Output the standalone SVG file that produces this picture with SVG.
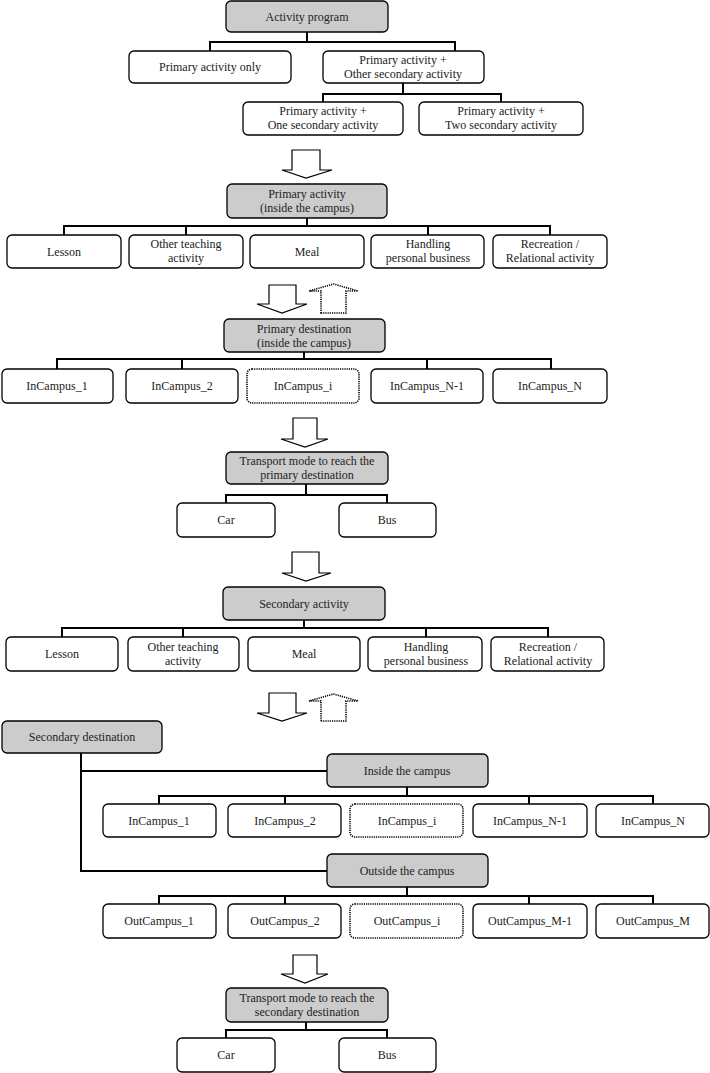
<svg xmlns="http://www.w3.org/2000/svg" width="710" height="1073" viewBox="0 0 710 1073">
<style>
.b{fill:#fff;stroke:#000;stroke-width:1.3}
.g{fill:#cccccc;stroke:#000;stroke-width:1.3}
.d{fill:#fff;stroke:#000;stroke-width:1.6;stroke-dasharray:1.2 1}
.t{font-family:"Liberation Serif","Times New Roman",serif;font-size:12px;fill:#222;text-anchor:middle}
.c{fill:none;stroke:#000;stroke-width:2}
.a{fill:#fff;stroke:#000;stroke-width:1.2}
.ad{fill:#fff;stroke:#000;stroke-width:1.6;stroke-dasharray:1.2 1}
</style>
<rect width="710" height="1073" fill="#fff"/>
<g id="connectors">
<path class="c" d="M307 32V42M210 51V42H455V51M403 83V94M323 102V94H501V102"/>
<path class="c" d="M307 218V226M64 235V226H550V235M186 226V235M428 226V235"/>
<path class="c" d="M304 352V359M57 369V359H551V369M182 359V369M427 359V369"/>
<path class="c" d="M306 484V495M226 503V495H387V503"/>
<path class="c" d="M304 620V628M62 637V628H548V637M183 628V637M426 628V637"/>
<path class="c" d="M81 753V871H327M81 771H327"/>
<path class="c" d="M407 787V796M159 804V796H653V804M285 796V804M529 796V804"/>
<path class="c" d="M407 887V896M159 904V896H653V904M285 896V904M529 896V904"/>
<path class="c" d="M306 1022V1030M226 1038V1030H387V1038"/>
</g>
<g id="arrows">
<polygon class="a" points="292,150 320,150 320,170 332,170 306,178 282,170 292,170"/>
<polygon class="a" points="269,285 296,285 296,304 307,304 282,313 257,304 269,304"/>
<polygon class="ad" points="321,313 346,313 346,291 358,291 333.5,284 309,291 321,291"/>
<polygon class="a" points="293,418 317,418 317,439 328,439 305,447 281,439 293,439"/>
<polygon class="a" points="292,552 319,552 319,573 331,573 306,581 282,573 292,573"/>
<polygon class="a" points="269,693 296,693 296,713 307,713 282,721 257,713 269,713"/>
<polygon class="ad" points="321,721 346,721 346,701 358,701 333.5,694 309,701 321,701"/>
<polygon class="a" points="293,955 317,955 317,974 328,974 305,983 281,974 293,974"/>
</g>
<g id="n-activity-program"><rect class="g" x="226" y="1" width="162" height="31" rx="5"/><text class="t" x="307" y="21">Activity program</text></g>
<g id="n-primary-only"><rect class="b" x="129" y="51" width="162" height="32" rx="5"/><text class="t" x="210" y="71">Primary activity only</text></g>
<g id="n-primary-other"><rect class="b" x="323" y="51" width="161" height="32" rx="5"/><text class="t" x="403" y="64">Primary activity +</text><text class="t" x="403" y="78">Other secondary activity</text></g>
<g id="n-primary-one"><rect class="b" x="243" y="102" width="160" height="33" rx="5"/><text class="t" x="323" y="115">Primary activity +</text><text class="t" x="323" y="129">One secondary activity</text></g>
<g id="n-primary-two"><rect class="b" x="419" y="102" width="164" height="33" rx="5"/><text class="t" x="501" y="115">Primary activity +</text><text class="t" x="501" y="129">Two secondary activity</text></g>

<g id="n-primary-activity"><rect class="g" x="227" y="184" width="160" height="34" rx="5"/><text class="t" x="307" y="198">Primary activity</text><text class="t" x="307" y="212">(inside the campus)</text></g>
<g id="n-pa-lesson"><rect class="b" x="7" y="235" width="114" height="33" rx="5"/><text class="t" x="64" y="256">Lesson</text></g>
<g id="n-pa-other"><rect class="b" x="129" y="235" width="114" height="33" rx="5"/><text class="t" x="186" y="248">Other teaching</text><text class="t" x="186" y="262">activity</text></g>
<g id="n-pa-meal"><rect class="b" x="250" y="235" width="114" height="33" rx="5"/><text class="t" x="307" y="256">Meal</text></g>
<g id="n-pa-handling"><rect class="b" x="371" y="235" width="113" height="33" rx="5"/><text class="t" x="428" y="248">Handling</text><text class="t" x="428" y="262">personal business</text></g>
<g id="n-pa-recreation"><rect class="b" x="493" y="235" width="114" height="33" rx="5"/><text class="t" x="550" y="248">Recreation /</text><text class="t" x="550" y="262">Relational activity</text></g>

<g id="n-primary-destination"><rect class="g" x="224" y="319" width="161" height="33" rx="5"/><text class="t" x="304" y="333">Primary destination</text><text class="t" x="304" y="347">(inside the campus)</text></g>
<g id="n-pd-1"><rect class="b" x="2" y="369" width="111" height="34" rx="5"/><text class="t" x="57" y="390">InCampus_1</text></g>
<g id="n-pd-2"><rect class="b" x="126" y="369" width="112" height="34" rx="5"/><text class="t" x="182" y="390">InCampus_2</text></g>
<g id="n-pd-i"><rect class="d" x="247" y="369" width="112" height="34" rx="5"/><text class="t" x="303" y="390">InCampus_i</text></g>
<g id="n-pd-n1"><rect class="b" x="371" y="369" width="112" height="34" rx="5"/><text class="t" x="427" y="390">InCampus_N-1</text></g>
<g id="n-pd-n"><rect class="b" x="493" y="369" width="114" height="34" rx="5"/><text class="t" x="550" y="390">InCampus_N</text></g>

<g id="n-transport-primary"><rect class="g" x="226" y="452" width="162" height="32" rx="5"/><text class="t" x="307" y="465">Transport mode to reach the</text><text class="t" x="307" y="479">primary destination</text></g>
<g id="n-tp-car"><rect class="b" x="177" y="503" width="98" height="34" rx="5"/><text class="t" x="226" y="524">Car</text></g>
<g id="n-tp-bus"><rect class="b" x="339" y="503" width="97" height="34" rx="5"/><text class="t" x="387" y="524">Bus</text></g>

<g id="n-secondary-activity"><rect class="g" x="223" y="587" width="162" height="33" rx="5"/><text class="t" x="304" y="608">Secondary activity</text></g>
<g id="n-sa-lesson"><rect class="b" x="6" y="637" width="112" height="34" rx="5"/><text class="t" x="62" y="658">Lesson</text></g>
<g id="n-sa-other"><rect class="b" x="128" y="637" width="111" height="34" rx="5"/><text class="t" x="183" y="651">Other teaching</text><text class="t" x="183" y="665">activity</text></g>
<g id="n-sa-meal"><rect class="b" x="248" y="637" width="112" height="34" rx="5"/><text class="t" x="304" y="658">Meal</text></g>
<g id="n-sa-handling"><rect class="b" x="368" y="637" width="114" height="34" rx="5"/><text class="t" x="426" y="651">Handling</text><text class="t" x="426" y="665">personal business</text></g>
<g id="n-sa-recreation"><rect class="b" x="491" y="637" width="113" height="34" rx="5"/><text class="t" x="548" y="651">Recreation /</text><text class="t" x="548" y="665">Relational activity</text></g>

<g id="n-secondary-destination"><rect class="g" x="2" y="721" width="160" height="32" rx="5"/><text class="t" x="82" y="741">Secondary destination</text></g>
<g id="n-inside"><rect class="g" x="327" y="754" width="161" height="33" rx="5"/><text class="t" x="407" y="775">Inside the campus</text></g>
<g id="n-in-1"><rect class="b" x="103" y="804" width="113" height="33" rx="5"/><text class="t" x="159" y="825">InCampus_1</text></g>
<g id="n-in-2"><rect class="b" x="228" y="804" width="113" height="33" rx="5"/><text class="t" x="285" y="825">InCampus_2</text></g>
<g id="n-in-i"><rect class="d" x="350" y="804" width="113" height="33" rx="5"/><text class="t" x="407" y="825">InCampus_i</text></g>
<g id="n-in-n1"><rect class="b" x="473" y="804" width="114" height="33" rx="5"/><text class="t" x="530" y="825">InCampus_N-1</text></g>
<g id="n-in-n"><rect class="b" x="596" y="804" width="113" height="33" rx="5"/><text class="t" x="653" y="825">InCampus_N</text></g>
<g id="n-outside"><rect class="g" x="327" y="854" width="161" height="33" rx="5"/><text class="t" x="407" y="875">Outside the campus</text></g>
<g id="n-out-1"><rect class="b" x="103" y="904" width="113" height="34" rx="5"/><text class="t" x="159" y="925">OutCampus_1</text></g>
<g id="n-out-2"><rect class="b" x="228" y="904" width="113" height="34" rx="5"/><text class="t" x="285" y="925">OutCampus_2</text></g>
<g id="n-out-i"><rect class="d" x="350" y="904" width="113" height="34" rx="5"/><text class="t" x="407" y="925">OutCampus_i</text></g>
<g id="n-out-m1"><rect class="b" x="473" y="904" width="114" height="34" rx="5"/><text class="t" x="530" y="925">OutCampus_M-1</text></g>
<g id="n-out-m"><rect class="b" x="596" y="904" width="113" height="34" rx="5"/><text class="t" x="653" y="925">OutCampus_M</text></g>

<g id="n-transport-secondary"><rect class="g" x="226" y="988" width="162" height="34" rx="5"/><text class="t" x="307" y="1002">Transport mode to reach the</text><text class="t" x="307" y="1016">secondary destination</text></g>
<g id="n-ts-car"><rect class="b" x="177" y="1038" width="98" height="34" rx="5"/><text class="t" x="226" y="1059">Car</text></g>
<g id="n-ts-bus"><rect class="b" x="339" y="1038" width="97" height="34" rx="5"/><text class="t" x="387" y="1059">Bus</text></g>
</svg>
